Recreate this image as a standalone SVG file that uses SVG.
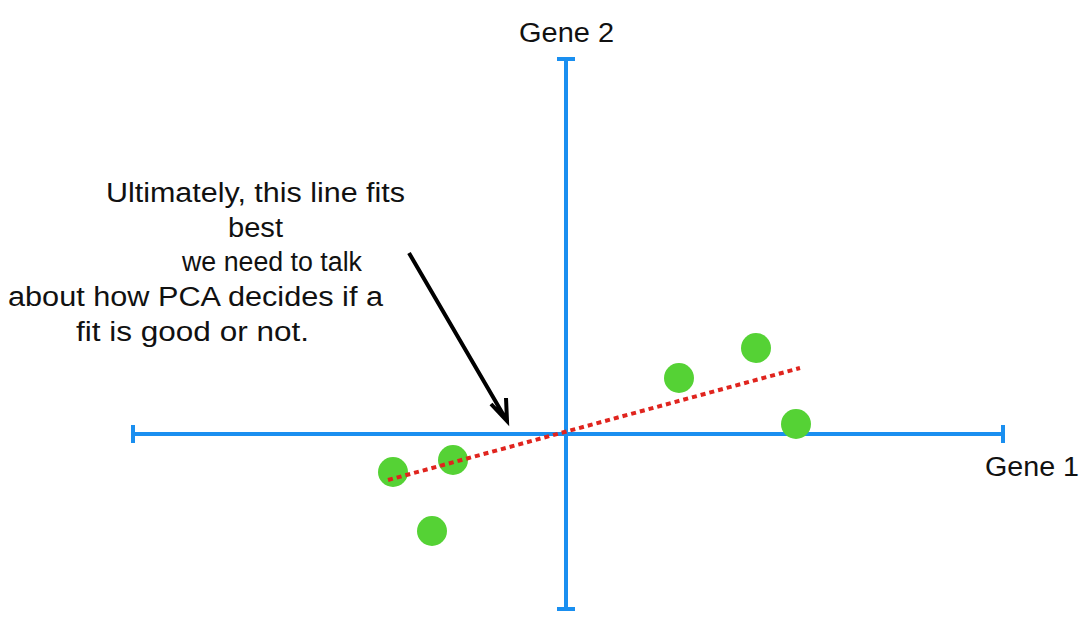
<svg xmlns="http://www.w3.org/2000/svg" width="1092" height="628" viewBox="0 0 1092 628">
<style>
.ax{stroke:#1a8ff0;stroke-width:4;fill:none}
.dot{fill:#55d235}
text{font-family:"Liberation Sans",Arial,sans-serif;font-size:27px;fill:#111}
</style>
<rect width="1092" height="628" fill="#fff"/>
<g id="axes">
<path class="ax" d="M133 434H1003M133 425V443M1003 425V443"/>
<path class="ax" d="M566 59V609M557 59H575M557 609H575"/>
</g>
<g id="points">
<circle class="dot" cx="393" cy="472" r="15"/>
<circle class="dot" cx="453" cy="460" r="15"/>
<circle class="dot" cx="432" cy="531" r="15"/>
<circle class="dot" cx="679" cy="378" r="15"/>
<circle class="dot" cx="756" cy="348" r="15"/>
<circle class="dot" cx="796" cy="424" r="15"/>
</g>
<g id="connectors">
<line x1="388" y1="480" x2="800" y2="368" stroke="#e0241e" stroke-width="4" stroke-dasharray="5 4"/>
<path d="M409 253L507 421M491 404L507 421L506 398" stroke="#000" stroke-width="4" fill="none"/>
</g>
<g id="labels">
<text x="519" y="42" textLength="95" lengthAdjust="spacingAndGlyphs">Gene 2</text>
<text x="985" y="476" textLength="94" lengthAdjust="spacingAndGlyphs">Gene 1</text>
<text x="106" y="202" textLength="299" lengthAdjust="spacingAndGlyphs">Ultimately, this line fits</text>
<text x="228" y="237" textLength="55" lengthAdjust="spacingAndGlyphs">best</text>
<text x="182" y="271" textLength="180" lengthAdjust="spacingAndGlyphs">we need to talk</text>
<text x="8" y="306" textLength="375" lengthAdjust="spacingAndGlyphs">about how PCA decides if a</text>
<text x="76" y="341" textLength="233" lengthAdjust="spacingAndGlyphs">fit is good or not.</text>
</g>
</svg>
